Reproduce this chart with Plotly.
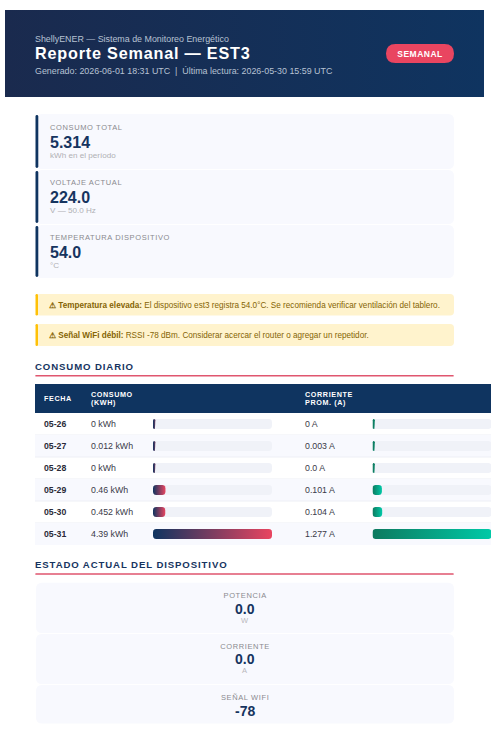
import json
import math
import plotly.graph_objects as go

W, H = 491, 732
dates = ["05-26", "05-27", "05-28", "05-29", "05-30", "05-31"]
consumo = [0, 0.012, 0, 0.46, 0.452, 4.39]
corriente = [0, 0.003, 0.0, 0.101, 0.104, 1.277]
consumo_txt = ["0 kWh", "0.012 kWh", "0 kWh", "0.46 kWh", "0.452 kWh", "4.39 kWh"]
corriente_txt = ["0 A", "0.003 A", "0.0 A", "0.101 A", "0.104 A", "1.277 A"]
kpi_labels = ["CONSUMO TOTAL", "VOLTAJE ACTUAL", "TEMPERATURA DISPOSITIVO"]
kpi_values = ["5.314", "224.0", "54.0"]
kpi_units = ["kWh en el período", "V — 50.0 Hz", "°C"]
estado_labels = ["POTENCIA", "CORRIENTE", "SEÑAL WIFI"]
estado_values = ["0.0", "0.0", "-78"]
estado_units = ["W", "A", ""]
alerts = [
    ("⚠ Temperatura elevada:", " El dispositivo est3 registra 54.0°C. Se recomienda verificar ventilación del tablero."),
    ("⚠ Señal WiFi débil:", " RSSI -78 dBm. Considerar acercar el router o agregar un repetidor."),
]

NAVY = "#0f3460"
TITLE = "#16345f"
RED = "#e94560"
CARD = "#f8f9fe"
FONT = "Liberation Sans"


def rr(x0, y0, x1, y1, r):
    r = min(r, (x1 - x0) / 2, (y1 - y0) / 2)
    return (f"M{x0+r},{y0} L{x1-r},{y0} Q{x1},{y0} {x1},{y0+r} L{x1},{y1-r} Q{x1},{y1} {x1-r},{y1} "
            f"L{x0+r},{y1} Q{x0},{y1} {x0},{y1-r} L{x0},{y0+r} Q{x0},{y0} {x0+r},{y0} Z")


shapes, annots = [], []


def box(x0, y0, x1, y1, color, r=0, layer="below"):
    shapes.append(dict(type="path", path=rr(x0, y0, x1, y1, r), fillcolor=color,
                       line=dict(width=0), xref="x", yref="y", layer=layer))


def txt(x, y, s, size, color, bold=False, align="left", spaced=None):
    if bold:
        s = f"<b>{s}</b>"
    annots.append(dict(x=x, y=y, xref="x", yref="y", text=s, showarrow=False, xanchor=align, yanchor="middle",
                       align=align, font=dict(family=FONT, size=size, color=color),
                       borderpad=0, borderwidth=0, name=("sp%s" % spaced) if spaced else None))


# header
fig = go.Figure()
fig.add_trace(go.Scatter(x=[5, 484, 484, 5, 5], y=[10, 10, 97, 97, 10], mode="lines", fill="toself",
                         line=dict(width=0), hoverinfo="skip", showlegend=False,
                         fillgradient=dict(type="horizontal", colorscale=[[0, "#1a2a4e"], [1, NAVY]])))
txt(35.3, 39, "ShellyENER — Sistema de Monitoreo Energético", 8.9, "#b7c2d3")
txt(35.3, 53, "Reporte Semanal — EST3", 16.2, "#ffffff", bold=True, spaced=0.8)
txt(35.3, 71, "Generado: 2026-06-01 18:31 UTC  |  Última lectura: 2026-05-30 15:59 UTC", 8.9, "#b7c2d3")
box(386, 44, 454, 63, RED, 9.5, "above")
txt(419.7, 54, "SEMANAL", 8.5, "#ffffff", bold=True, align="center", spaced=0.5)

# KPI cards
for i, (y0, y1) in enumerate([(114, 169), (170, 224), (225, 278)]):
    box(36, y0, 454, y1, CARD, 6)
    box(35.5, y0 + 1, 38.3, y1 - 1, NAVY, 1.4)
    top = [127, 182, 237][i]
    txt(50, top, kpi_labels[i], 7.5, "#8a8a8e", spaced=0.62)
    txt(50, top + 15.3, kpi_values[i], 16, TITLE, bold=True)
    txt(50, top + 28, kpi_units[i], 8.1, "#b0b0b4")

# alerts
for (y0, y1), (head, body) in zip([(294, 315.5), (324, 346)], alerts):
    box(36, y0, 454, y1, "#fff3cd", 4)
    box(35.5, y0, 38, y1, "#ffc107", 1.2)
    txt(49, (y0 + y1) / 2 + 0.3, f"<b>{head}</b>{body}", 8.17, "#856404")

# section titles
for y, s, ly in [(366.5, "CONSUMO DIARIO", 375.7), (564.7, "ESTADO ACTUAL DEL DISPOSITIVO", 574)]:
    txt(35.3, y, s, 9.6, TITLE, bold=True, spaced=0.9)
    box(35.3, ly - 0.7, 453.7, ly + 0.7, "#e0566f", 0.5)

# table
box(35, 384, 492, 413, NAVY)
txt(44, 398.3, "FECHA", 7.2, "#ffffff", bold=True, spaced=0.6)
txt(91, 394.3, "CONSUMO", 7.2, "#ffffff", bold=True, spaced=0.6)
txt(91, 402.7, "(KWH)", 7.2, "#ffffff", bold=True, spaced=0.6)
txt(304.5, 394.3, "CORRIENTE", 7.2, "#ffffff", bold=True, spaced=0.6)
txt(304.5, 402.7, "PROM. (A)", 7.2, "#ffffff", bold=True, spaced=0.6)
for i in range(len(dates)):
    y0, y1 = 413 + 22 * i, 435 + 22 * i
    if i % 2:
        box(35, y0, 492, y1, CARD)
    if i < len(dates) - 1:
        box(35, y1 - 0.5, 492, y1 + 0.5, "#eef0f5")
    yc = 424 + 22 * i
    txt(44, yc, dates[i], 8.7, "#2a2a38", bold=True)
    txt(91, yc, consumo_txt[i], 8.8, "#3a3a48")
    txt(304.5, yc, corriente_txt[i], 8.8, "#3a3a48")

# device cards
for i, (y0, y1) in enumerate([(582.7, 633), (634, 684), (685, 723.5)]):
    box(36, y0, 454, y1, CARD, 6)
    top = [595.5, 646, 697.5][i]
    txt(244.5, top, estado_labels[i], 7.5, "#8a8a8e", align="center", spaced=0.62)
    txt(244.5, top + 13, estado_values[i], 14, TITLE, bold=True, align="center")
    if estado_units[i]:
        txt(244.5, top + 24.7, estado_units[i], 7.5, "#b8b8bc", align="center")

# bars
ROW_H, BAR_H, TRACK_W = 22, 10, 119
rows = list(range(len(dates)))


def bar_block(vals, xa, ya, c0, c1, c_small, vmax):
    shown = [max(v, 0.02 * vmax) for v in vals]
    hh = BAR_H / ROW_H / 2
    ux, uy = vmax / TRACK_W, 1 / ROW_H  # axis units per pixel
    for r, s in zip(rows, shown):
        end = c_small if s <= 0.02 * vmax else c1
        for target, grad in [(vmax, None), (s, (c0, end))]:
            rp = min(3, target / ux / 2, BAR_H / 2)
            arc = [math.pi * k / 10 for k in range(6)]
            xs, ys = [], []
            for cx, cy, a0 in [(target - rp * ux, r - hh + rp * uy, -math.pi / 2),
                               (target - rp * ux, r + hh - rp * uy, 0),
                               (rp * ux, r + hh - rp * uy, math.pi / 2),
                               (rp * ux, r - hh + rp * uy, math.pi)]:
                for a in arc:
                    xs.append(cx + rp * ux * math.cos(a0 + a))
                    ys.append(cy + rp * uy * math.sin(a0 + a))
            xs.append(xs[0])
            ys.append(ys[0])
            style = (dict(fillgradient=dict(type="horizontal", colorscale=[[0, grad[0]], [1, grad[1]]]))
                     if grad else dict(fillcolor="#f0f2f8"))
            fig.add_trace(go.Scatter(x=xs, y=ys, mode="lines", fill="toself", line=dict(width=0), hoverinfo="skip",
                                     showlegend=False, xaxis=xa, yaxis=ya, **style))
    # hover carriers at the true values
    fig.add_trace(go.Bar(x=shown, y=rows, orientation="h", width=BAR_H / ROW_H, opacity=0,
                         marker=dict(color=c1, line=dict(width=0)),
                         xaxis=xa, yaxis=ya, customdata=vals, hovertemplate="%{customdata}<extra></extra>",
                         showlegend=False))


bar_block(consumo, "x2", "y2", NAVY, RED, "#6a3a60", max(consumo))
bar_block(corriente, "x3", "y2", "#0d7a5f", "#00c9a7", "#0e8468", max(corriente))

hidden = dict(visible=False, fixedrange=True)
fig.update_layout(
    width=W, height=H, margin=dict(l=0, r=0, t=0, b=0), autosize=False,
    paper_bgcolor="#ffffff", plot_bgcolor="rgba(0,0,0,0)", barmode="overlay",
    showlegend=False, shapes=shapes, annotations=annots,
    xaxis=dict(range=[0, W], domain=[0, 1], **hidden),
    yaxis=dict(range=[H, 0], domain=[0, 1], **hidden),
    xaxis2=dict(range=[0, max(consumo)], domain=[153 / W, 272 / W], anchor="y2", **hidden),
    xaxis3=dict(range=[0, max(corriente) * 118.5 / 119], domain=[372.5 / W, 1], anchor="y2", **hidden),
    yaxis2=dict(range=[5.5, -0.5], domain=[(H - 545) / H, (H - 413) / H], anchor="x2", **hidden),
)

spacing = [(a["text"].replace("<b>", "").replace("</b>", ""), a["name"][2:]) for a in annots if a.get("name")]
post = """
document.documentElement.style.overflow='hidden';document.body.style.margin='0';document.body.style.overflow='hidden';
var sp=%s;
function applySp(){document.querySelectorAll('.annotation-text').forEach(function(t){sp.forEach(function(p){
 if(t.textContent===p[0]){t.style.letterSpacing=p[1]+'px';}});});}
var gd=document.getElementById('{plot_id}');
if(gd.on){gd.on('plotly_afterplot',applySp);}
applySp();
requestAnimationFrame(applySp);setTimeout(applySp,50);setTimeout(applySp,300);
""" % json.dumps(spacing, ensure_ascii=False)
fig.write_html("out.html", config=dict(displayModeBar=False, responsive=False), post_script=post)
